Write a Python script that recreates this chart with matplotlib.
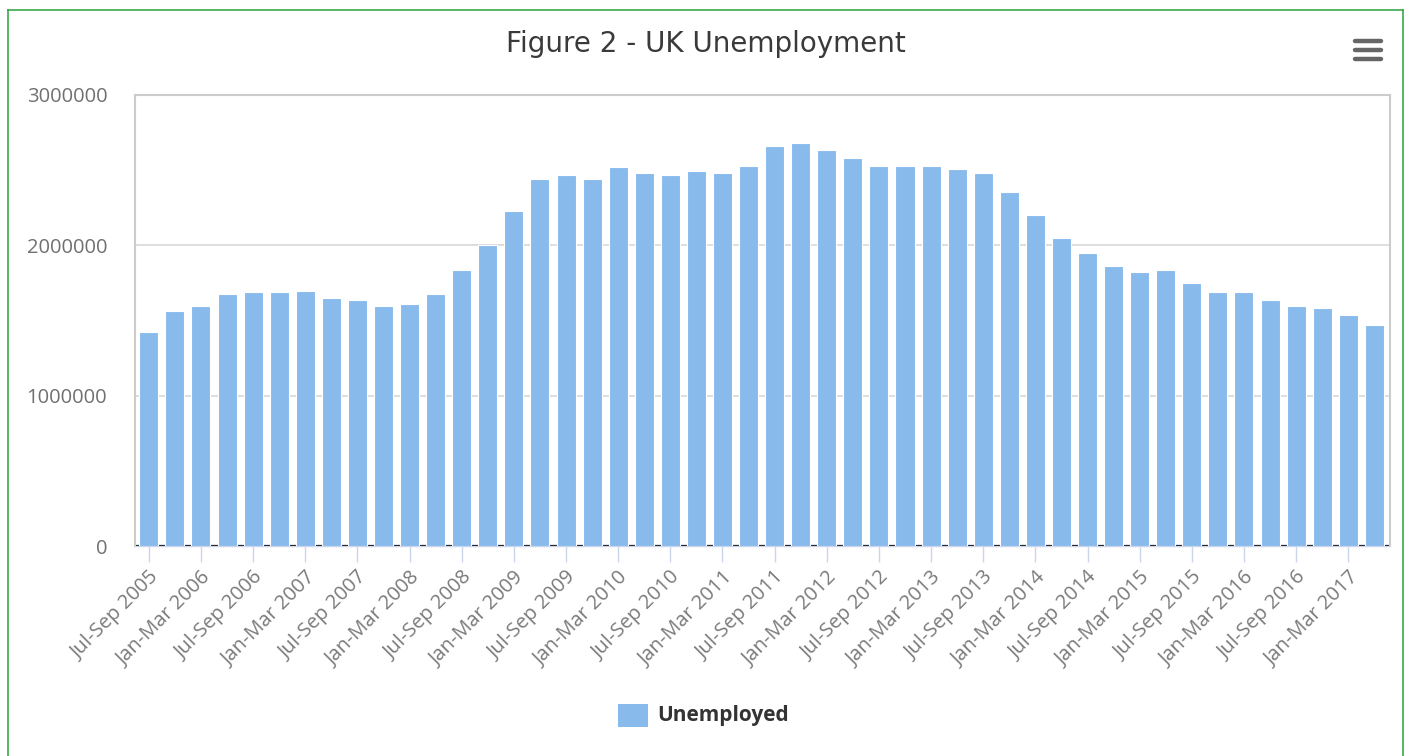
import matplotlib
matplotlib.use("Agg")
import matplotlib.pyplot as plt
from matplotlib.lines import Line2D
from matplotlib.patches import Rectangle

plt.rcParams['font.family'] = ['Open Sans', 'DejaVu Sans']

quarters = []
for y in range(2005, 2018):
    for q in ["Jan-Mar", "Apr-Jun", "Jul-Sep", "Oct-Dec"]:
        quarters.append(f"{q} {y}")
categories = quarters[2:50]  # Jul-Sep 2005 .. Apr-Jun 2017

unemployed = [
    1422000, 1562000, 1598000, 1673000, 1687000, 1687000, 1698000, 1649000,
    1636000, 1598000, 1611000, 1673000, 1838000, 2000000, 2227000, 2442000,
    2467000, 2442000, 2518000, 2480000, 2467000, 2493000, 2480000, 2531000,
    2658000, 2682000, 2631000, 2580000, 2531000, 2531000, 2531000, 2507000,
    2480000, 2353000, 2202000, 2051000, 1951000, 1862000, 1824000, 1838000,
    1749000, 1687000, 1687000, 1636000, 1598000, 1584000, 1536000, 1471000,
]
y_ticks = [0, 1000000, 2000000, 3000000]

W, H = 1409, 756
fig = plt.figure(figsize=(W / 100, H / 100), dpi=100)

def fx(px):
    return px / W

def fy(py):
    return 1 - py / H

ax = fig.add_axes([fx(135), fy(546), fx(1390) - fx(135), fy(95) - fy(546)])
x = list(range(len(categories)))
ax.bar(x, unemployed, width=0.73, color='#88bbec', edgecolor='white',
       linewidth=0.8, zorder=3, label='Unemployed')
ax.axhline(0, color='black', lw=1.6, zorder=2)
ax.set_xlim(-0.53, 47.6)
ax.set_ylim(0, 3000000)
ax.set_yticks(y_ticks)
ax.set_yticklabels([str(v) for v in y_ticks])
ax.yaxis.grid(True, color='#d8d8d8', lw=1.2, zorder=0)
ax.set_axisbelow(True)
ax.tick_params(axis='y', length=0, pad=20, labelsize=14.5, labelcolor='#707070')
ax.set_xticks(x[::2])
ax.set_xticklabels(categories[::2], rotation=45, ha='right', rotation_mode='anchor',
                   fontsize=14.5, color='#7a7a7a')
ax.tick_params(axis='x', length=11.5, width=1, color='#ccd6eb', pad=4)
for s in ['top', 'left', 'right']:
    ax.spines[s].set_color('#cccccc')
    ax.spines[s].set_linewidth(1.5)
ax.spines['bottom'].set_color('#ccd6eb')
ax.spines['bottom'].set_linewidth(1.0)

fig.text(fx(706), fy(44), "Figure 2 - UK Unemployment", ha='center', va='center',
         fontsize=20, color='#3a3a3a', family=['DejaVu Sans'])

# menu icon
for yy in (41, 50, 59):
    fig.add_artist(Line2D([fx(1355), fx(1381)], [fy(yy), fy(yy)], color='#666666',
                          lw=3.2, solid_capstyle='round'))

# legend
fig.add_artist(Rectangle((fx(618), fy(727)), fx(648) - fx(618), fy(704) - fy(727),
                         facecolor='#88bbec', edgecolor='none'))
fig.text(fx(657), fy(716), "Unemployed", ha='left', va='center', fontsize=15,
         fontweight='bold', color='#333333')

# green frame
green = '#3aa84a'
fig.add_artist(Line2D([fx(8), fx(8)], [fy(10), 0], color=green, lw=1.2))
fig.add_artist(Line2D([fx(8), fx(1403)], [fy(10), fy(10)], color=green, lw=1.2))
fig.add_artist(Line2D([fx(1403), fx(1403)], [fy(10), 0], color=green, lw=1.2))

fig.savefig("out.png", dpi=100, facecolor='white')
